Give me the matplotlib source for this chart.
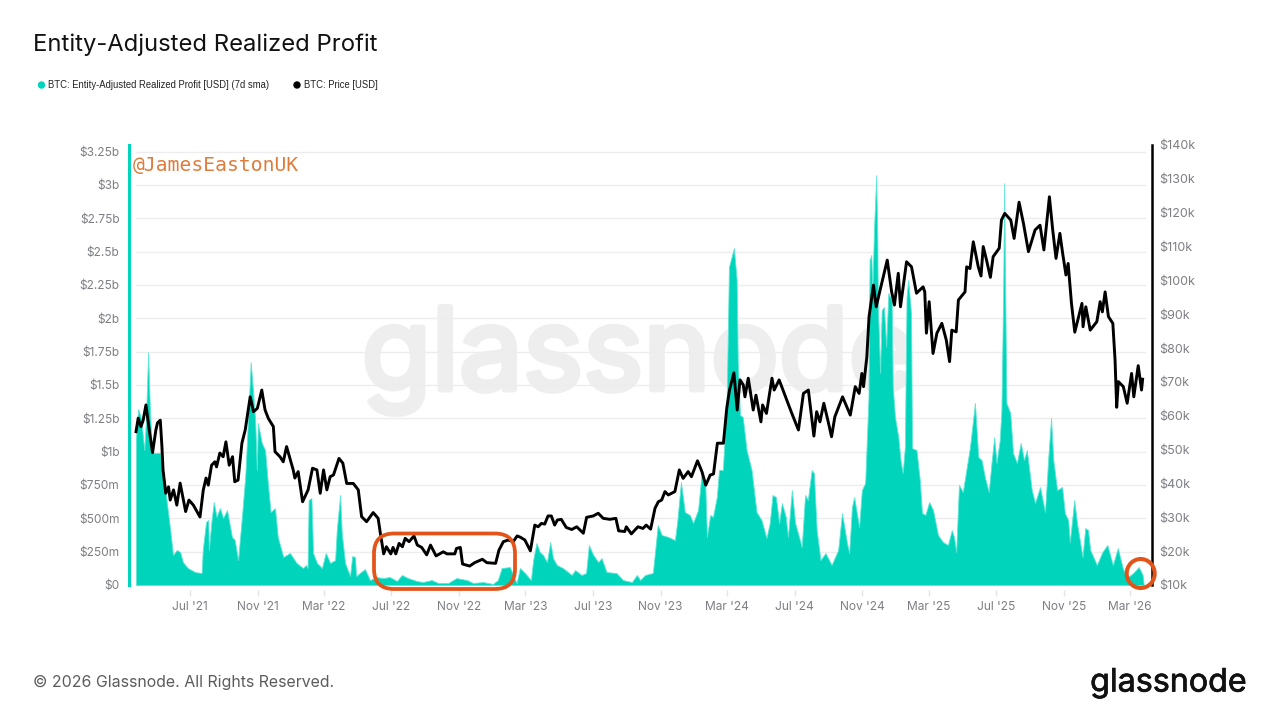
import numpy as np
import pandas as pd
import matplotlib
matplotlib.use("Agg")
import matplotlib.pyplot as plt
import matplotlib.dates as mdates
import matplotlib.patheffects as pe
from matplotlib.patches import FancyBboxPatch, Ellipse
from matplotlib.transforms import Affine2D

START = "2021-03-25"

profit_days = [0,1,4,9,15,18,22,25,29,44,49,56,62,67,74,80,85,94,107,119,121,127,131,132,137,141,146,152,158,165,174,179,185,192,198,203,208,212,216,219,221,228,234,239,244,252,257,267,279,291,303,308,311,313,318,321,328,337,344,352,361,364,370,373,379,388,392,397,399,415,424,436,448,460,473,482,493,509,520,536,548,566,581,600,611,629,647,656,663,678,685,690,696,705,716,720,726,732,738,745,751,756,763,774,790,796,808,816,821,829,838,844,853,871,883,899,908,914,923,937,946,953,965,977,981,988,995,1004,1010,1019,1026,1032,1035,1041,1046,1053,1057,1064,1071,1075,1084,1089,1091,1095,1100,1107,1116,1125,1134,1143,1149,1154,1160,1166,1171,1178,1182,1189,1195,1200,1207,1213,1218,1225,1229,1234,1241,1250,1261,1273,1280,1289,1293,1298,1302,1311,1316,1322,1328,1330,1333,1335,1338,1342,1344,1345,1349,1352,1356,1360,1364,1370,1372,1376,1382,1386,1390,1394,1397,1400,1405,1407,1415,1421,1425,1431,1438,1445,1454,1463,1472,1479,1483,1487,1492,1499,1512,1521,1527,1533,1539,1546,1551,1556,1560,1566,1569,1572,1574,1576,1578,1585,1590,1597,1604,1610,1615,1624,1630,1639,1648,1654,1659,1663,1670,1679,1684,1690,1693,1701,1706,1716,1721,1726,1730,1742,1752,1761,1771,1780,1789,1796,1808,1818,1825,1827]
profit_musd = [1100,1162,1320,1252,1012,1237,1747,1335,990,990,862,615,412,225,262,247,172,127,97,90,262,472,487,262,487,622,510,577,502,562,360,337,187,510,810,1237,1672,1462,1237,862,1215,1065,1012,765,547,577,360,210,240,165,127,150,127,637,652,240,165,127,240,165,187,412,675,390,165,67,217,210,67,120,37,60,52,60,30,75,52,30,22,37,15,15,52,37,15,22,8,37,127,135,60,15,127,90,37,187,315,247,225,172,322,202,150,127,75,112,75,90,300,225,172,202,97,90,37,22,75,37,75,90,450,375,360,337,465,772,547,525,465,562,862,765,360,525,510,660,862,862,1410,2385,2527,2287,1665,1275,1260,1012,862,547,487,352,465,675,660,465,615,510,360,712,465,390,285,675,637,862,840,412,187,240,150,262,540,315,240,585,660,435,712,765,1410,2437,2475,2212,2662,3075,2587,2085,1590,2062,2085,1785,2190,2137,1485,1260,1110,937,840,1035,2160,2287,2040,1027,1012,787,540,525,622,562,375,322,300,412,360,247,750,697,1035,1365,960,937,810,697,915,1110,915,1087,1312,2137,3015,2137,1365,1290,990,915,1065,937,1012,712,615,735,547,960,1252,937,712,735,540,487,322,637,465,210,427,412,262,150,247,300,150,277,127,52,90,135,75,0]

price_days = [0,4,9,13,18,24,30,36,39,44,47,49,54,59,62,68,74,80,86,90,96,104,116,122,127,131,137,143,146,152,158,163,169,175,179,185,192,198,207,213,220,228,234,240,249,252,261,267,273,285,288,294,302,312,320,328,334,340,346,352,358,368,375,382,394,403,409,418,430,439,443,449,454,462,466,471,477,483,488,495,504,510,518,527,534,544,557,564,578,581,588,592,605,614,628,636,652,658,666,675,684,691,697,705,715,723,729,735,741,747,753,759,764,771,780,790,799,811,817,829,838,847,859,870,875,886,889,898,910,919,925,933,941,947,953,959,965,977,985,992,1001,1007,1018,1026,1033,1041,1047,1054,1065,1071,1076,1084,1090,1095,1101,1104,1110,1119,1124,1133,1136,1143,1153,1157,1166,1180,1189,1201,1210,1219,1229,1234,1240,1247,1255,1261,1267,1281,1295,1304,1311,1316,1319,1325,1329,1337,1342,1349,1362,1370,1375,1382,1386,1397,1406,1415,1427,1430,1433,1438,1445,1452,1461,1469,1475,1479,1487,1491,1503,1506,1512,1518,1527,1532,1536,1542,1549,1554,1565,1569,1575,1586,1592,1601,1609,1618,1630,1639,1646,1656,1662,1668,1675,1680,1686,1690,1696,1702,1715,1717,1722,1730,1742,1748,1752,1757,1763,1771,1775,1778,1781,1790,1797,1805,1809,1817,1823,1825]
price_kusd = [55.3,59.3,56.8,58.7,63.2,55.8,49.1,55.8,57.9,58.7,50.9,44.0,37.1,39.0,35.1,38.1,33.6,40.1,35.1,31.7,35.1,33.6,30.1,38.1,41.6,39.5,45.4,46.4,44.9,49.0,47.9,52.3,45.4,47.9,40.5,41.0,51.9,55.8,65.6,61.2,62.2,67.6,61.7,59.2,56.8,49.4,47.9,46.4,50.9,44.0,41.6,43.5,34.6,38.1,44.5,44.0,37.1,44.0,38.1,42.0,42.5,47.4,46.0,40.0,40.0,38.1,30.2,28.7,31.4,29.7,25.3,19.2,21.3,19.2,21.1,19.2,22.3,21.3,23.8,22.8,24.5,21.8,21.1,18.9,21.8,18.6,19.8,19.2,19.2,20.8,21.1,16.2,15.6,16.6,17.6,16.6,16.4,20.3,22.8,23.3,22.8,24.5,24.1,23.3,20.1,27.7,27.2,28.2,28.0,30.4,30.4,27.7,29.2,29.4,27.0,26.4,27.2,25.3,30.0,30.4,31.2,29.7,29.4,29.7,26.0,25.8,27.2,25.1,27.2,26.7,27.7,26.5,32.7,34.6,35.1,37.6,36.6,37.6,44.0,41.5,43.5,42.0,46.7,43.5,39.5,42.5,42.8,51.9,51.9,62.2,67.6,72.7,61.7,70.6,69.1,65.6,71.1,61.7,66.1,58.2,63.2,60.7,71.1,67.6,70.6,64.6,60.7,55.8,66.6,67.6,54.0,61.2,58.2,63.7,58.2,53.8,59.7,65.6,60.2,68.6,66.6,72.5,68.6,77.4,89.3,98.6,92.2,97.1,106.0,96.6,92.7,102.1,92.2,105.5,104.0,96.2,98.1,96.6,84.4,93.7,78.4,84.4,87.3,82.4,76.0,85.3,84.8,94.2,96.6,104.0,103.5,111.4,104.0,101.3,110.0,106.0,100.9,107.0,109.5,117.8,119.8,117.8,112.4,123.1,116.8,108.5,114.9,116.3,109.0,124.7,114.9,106.5,113.9,108.0,101.6,105.0,93.2,84.7,93.2,86.3,92.2,85.3,87.8,93.7,90.7,96.6,89.3,87.3,76.5,62.5,70.1,68.6,63.7,72.5,65.6,74.8,67.6,70.8]

left_ticks = [0,250,500,750,1000,1250,1500,1750,2000,2250,2500,2750,3000,3250]
left_labels = ["$0","$250m","$500m","$750m","$1b","$1.25b","$1.5b","$1.75b","$2b","$2.25b","$2.5b","$2.75b","$3b","$3.25b"]
right_ticks = list(range(10,141,10))
right_labels = [f"${v}k" for v in right_ticks]
x_tick_dates = ["2021-07-01","2021-11-01","2022-03-01","2022-07-01","2022-11-01","2023-03-01","2023-07-01","2023-11-01","2024-03-01","2024-07-01","2024-11-01","2025-03-01","2025-07-01","2025-11-01","2026-03-01"]
x_tick_labels = ["Jul '21","Nov '21","Mar '22","Jul '22","Nov '22","Mar '23","Jul '23","Nov '23","Mar '24","Jul '24","Nov '24","Mar '25","Jul '25","Nov '25","Mar '26"]

assert len(price_days) == len(price_kusd), (len(price_days), len(price_kusd))
assert len(profit_days) == len(profit_musd), (len(profit_days), len(profit_musd))

TEAL = "#00D5BC"
GRAY = "#7d7f85"
ORANGE = "#E2541A"

W, H = 1280, 720
fig = plt.figure(figsize=(W/100, H/100), dpi=100, facecolor="white")
L, R, T, B = 129, 1152, 145, 585
ax = fig.add_axes([L/W, 1-B/H, (R-L)/W, (B-T)/H])
base = pd.Timestamp(START)
to_num = lambda days: mdates.date2num(base + pd.to_timedelta(np.asarray(days), unit="D"))
x0 = mdates.date2num(base)
ax.set_xlim(x0-12.7, x0+1842)
ax.set_ylim(0, 3300)

for t in left_ticks[1:]:
    ax.axhline(t, xmin=0.007, xmax=0.993, color="#ededed", lw=1, zorder=1)

# watermark, behind the area
ax.text(0.4975, 0.51, "glassnode", transform=ax.transAxes, family="Inter", fontsize=82,
        color="#eeeeee", ha="center", va="center", zorder=0.5,
        path_effects=[pe.Stroke(linewidth=4, foreground="#eeeeee"), pe.Normal()])

ax.fill_between(to_num(profit_days), 0, profit_musd, color=TEAL, lw=0.6, edgecolor="#5fe6d6", zorder=2)

ax.set_yticks(left_ticks, left_labels)
ax.set_xticks(mdates.date2num(pd.to_datetime(x_tick_dates)), x_tick_labels)
ax.spines["bottom"].set_position(("outward", 3.5))
ax.tick_params(axis="y", length=0, pad=6.8, labelsize=8.6, labelcolor=GRAY)
ax.tick_params(axis="x", length=4.3, width=1, color="#e4e4e4", pad=3.6, labelsize=8.6, labelcolor=GRAY, direction="out")
for s in ["top","right","bottom"]:
    ax.spines[s].set_visible(False)
ax.spines["left"].set_color(TEAL)
ax.spines["left"].set_linewidth(2.2)

ax2 = ax.twinx()
ax2.set_ylim(10, 140)
ax2.plot(to_num(price_days), price_kusd, color="black", lw=2.1, solid_joinstyle="round", zorder=5)
ax2.set_yticks(right_ticks, right_labels)
ax2.tick_params(axis="y", length=0, pad=5.5, labelsize=9, labelcolor=GRAY)
for s in ["top","left","bottom"]:
    ax2.spines[s].set_visible(False)
ax2.spines["right"].set_color("black")
ax2.spines["right"].set_linewidth(1.8)
ax2.patch.set_alpha(0)
for lab in ax.get_xticklabels()+ax.get_yticklabels()+ax2.get_yticklabels():
    lab.set_family("Inter")

def fx(x): return x/W
def fy(y): return 1-y/H

fig.text(fx(33), fy(45), "Entity-Adjusted Realized Profit", family="Inter", fontsize=17.15, color="#111", va="center", ha="left")
fig.add_artist(Ellipse((fx(41.5), fy(85)), 6/W, 6/H, transform=fig.transFigure, color=TEAL))
fig.text(fx(48), fy(85), "BTC: Entity-Adjusted Realized Profit [USD] (7d sma)", family="Liberation Sans", fontsize=6.88, color="#222", va="center")
fig.add_artist(Ellipse((fx(297), fy(85)), 6/W, 6/H, transform=fig.transFigure, color="black"))
fig.text(fx(304), fy(85), "BTC: Price [USD]", family="Liberation Sans", fontsize=6.88, color="#222", va="center")

fig.text(fx(133), fy(165), "@JamesEastonUK", family="DejaVu Sans Mono", fontsize=14.1, color="#DE7C3C", va="center", zorder=6)

fig.text(fx(33), fy(682.5), "© 2026 Glassnode. All Rights Reserved.", family="Inter", fontsize=11.45, color="#5c5c5c", va="center")
fig.text(fx(1247), fy(683), "glassnode", family="Inter", fontsize=23.2, color="#111", ha="right", va="center",
         path_effects=[pe.Stroke(linewidth=0.5, foreground="#111"), pe.Normal()])

# hand-drawn highlights, placed in pixels of the picture
pixels = Affine2D().scale(1, -1).translate(0, H)
fig.add_artist(FancyBboxPatch((390, 549.5), 109, 23.5, boxstyle="round,pad=16,rounding_size=20", fill=False,
                              edgecolor=ORANGE, lw=2.7, transform=pixels, zorder=7))
fig.add_artist(Ellipse((1140.7, 573.5), 28, 29, fill=False, edgecolor=ORANGE, lw=2.9, transform=pixels, zorder=7))

fig.savefig("out.png", dpi=100)
